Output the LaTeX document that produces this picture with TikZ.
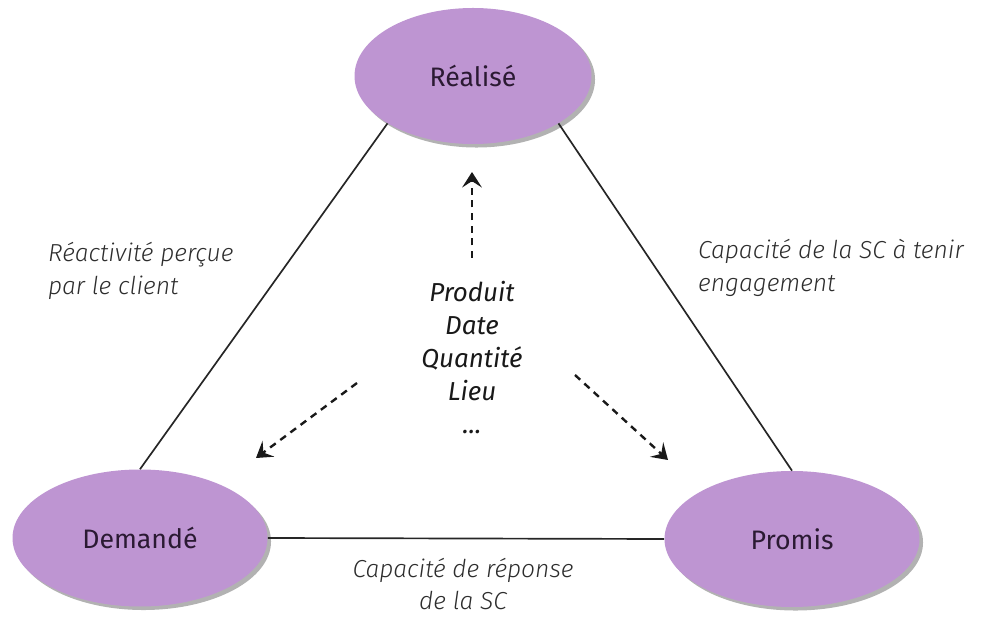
\documentclass[tikz,border=0pt]{standalone}
\usepackage{fontspec}
\setmainfont{Fira Sans}
\newfontfamily\lightfont{Fira Sans Light}
\usetikzlibrary{shapes.geometric,arrows.meta,shadows}

\definecolor{lilas}{RGB}{190,149,210}
\definecolor{prune}{RGB}{43,26,51}
\definecolor{gristexte}{RGB}{45,45,45}

\begin{document}
\begin{tikzpicture}[
  etat/.style={ellipse, fill=lilas, text=prune, font=\fontsize{19}{22}\selectfont,
    drop shadow={shadow xshift=2.5pt, shadow yshift=-2.5pt, opacity=0.3, fill=black}},
  cote/.style={line width=1.2pt, black!85},
  legende/.style={text=gristexte, font=\lightfont\itshape\fontsize{17.5}{23.5}\selectfont},
  fleche/.style={-{Stealth[length=11pt,width=14pt,inset=4.5pt]}, dash pattern=on 5pt off 4pt, line width=1.7pt, black!90}
]
\useasboundingbox (0,0) rectangle (24.85,-15.425);

% les trois sommets
\node[etat, minimum width=5.925cm, minimum height=3.4cm] (rea) at (11.825,-1.9) {Réalisé};
\node[etat, minimum width=6.375cm, minimum height=3.425cm] (dem) at (3.5,-13.45) {Demandé};
\node[etat, minimum width=6.375cm, minimum height=3.4cm] (pro) at (19.8,-13.475) {Promis};

% cotes du triangle
\draw[cote] (dem.north) -- (rea.209);
\draw[cote] (rea.331) -- (pro.north);
\draw[cote] (dem.east) -- (pro.west);

\node[legende, align=left, anchor=west] (reac) at (1.08,-6.775) {Réactivité perçue\\par le client};
\node[legende, align=left, anchor=west] (tenir) at (17.33,-6.69) {Capacité de la SC à tenir\\engagement};
\node[legende, align=center, inner sep=0.5pt, font=\lightfont\itshape\fontsize{17.5}{22.5}\selectfont] (rep) at (11.575,-14.6) {Capacité de réponse\\de la SC};

% ce qui est comparé
\node[align=center, text=black!90, font=\itshape\fontsize{18.5}{23.5}\selectfont] (info) at (11.8,-8.94) {Produit\\Date\\Quantité\\Lieu\\...};

\coordinate (h0) at (11.8,-6.45);
\coordinate (h1) at (11.8,-4.3);
\coordinate (g0) at (8.925,-9.575);
\coordinate (g1) at (6.4,-11.45);
\coordinate (d0) at (14.375,-9.375);
\coordinate (d1) at (16.7,-11.5);
\draw[fleche] (h0) -- (h1);
\draw[fleche] (g0) -- (g1);
\draw[fleche] (d0) -- (d1);
\end{tikzpicture}
\end{document}
